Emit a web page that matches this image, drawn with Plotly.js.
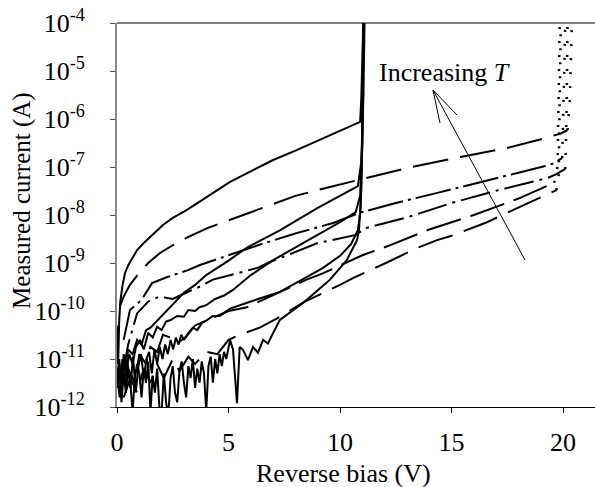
<!DOCTYPE html>
<html>
<head>
<meta charset="utf-8">
<script src="https://cdn.plot.ly/plotly-3.0.1.min.js"></script>
<style>html,body{margin:0;padding:0;background:#fff;}#chart{width:595px;height:487px;}</style>
</head>
<body>
<div id="chart"></div>
<script>
// ---- Data (reverse bias in V, measured current in A) ----
const s1V = [0, 0.05, 0.1, 0.15, 0.25, 0.36, 0.5, 0.67, 0.9, 1.2, 1.5, 1.8, 2.06, 2.5, 3, 3.5, 4, 4.5, 5.07, 6, 7, 8, 9, 10, 10.9, 10.95, 11.0, 11.05];
const s1I = [5.0e-11, 7.9e-12, 6.3e-11, 1.6e-10, 3.5e-10, 6.2e-10, 8.9e-10, 1.2e-9, 1.86e-9, 2.6e-9, 3.5e-9, 4.7e-9, 6.2e-9, 8.7e-9, 1.17e-8, 1.65e-8, 2.3e-8, 3.3e-8, 4.9e-8, 8.1e-8, 1.4e-7, 2.2e-7, 3.5e-7, 5.6e-7, 8.7e-7, 2.5e-6, 1.6e-5, 1.2e-4];

const s2V = [0, 0.1, 0.2, 0.3, 0.4, 0.5, 0.7, 0.9, 1.1, 1.3, 1.5, 1.8, 2.0, 2.5, 3.0, 3.5, 4.0, 5.0, 5.83, 7.3, 9, 10.8, 10.95, 11.05, 11.1];
const s2I = [3.98e-12, 1.0e-11, 2.5e-12, 1.26e-11, 6.3e-12, 1.58e-11, 1.26e-11, 2.5e-11, 2.0e-11, 4.0e-11, 4.5e-11, 6.3e-11, 7.9e-11, 1.41e-10, 2.4e-10, 3.5e-10, 5.6e-10, 1.12e-9, 2.1e-9, 4.8e-9, 1.41e-8, 4.0e-8, 1.26e-7, 3.2e-6, 1.2e-4];

const s3V = [0, 0.1, 0.2, 0.27, 0.4, 0.55, 0.7, 0.85, 1.03, 1.2, 1.4, 1.6, 1.8, 2.0, 2.2, 2.4, 2.7, 3.0, 3.2, 3.5, 3.7, 4.0, 4.4, 4.8, 5.2, 6.0, 7.0, 8.5, 10.0, 10.7, 10.9, 11.0, 11.05];
const s3I = [3.2e-12, 6.3e-12, 1.58e-12, 9.5e-12, 5.0e-12, 1.26e-11, 7.9e-12, 1.78e-11, 2.5e-11, 1.58e-11, 3.5e-11, 2.8e-11, 4.7e-11, 4.0e-11, 6.0e-11, 6.5e-11, 7.9e-11, 7.6e-11, 1.05e-10, 1.0e-10, 1.2e-10, 1.32e-10, 1.78e-10, 2.1e-10, 2.75e-10, 5.6e-10, 1.15e-9, 2.8e-9, 7.1e-9, 1.15e-8, 2.5e-8, 3.2e-7, 1.2e-4];

const s4V = [0, 0.12, 0.24, 0.36, 0.48, 0.6, 0.72, 0.84, 0.96, 1.08, 1.2, 1.32, 1.44, 1.56, 1.68, 1.8, 1.92, 2.04, 2.16, 2.28, 2.4, 2.52, 2.64, 2.76, 2.88, 3.0, 3.2, 3.4, 3.6, 3.8, 4.0, 4.3, 4.6, 5.07, 6, 7.3, 8.3, 9.24, 10, 10.5, 10.8, 10.92, 11.0, 11.03];
const s4I = [5.0e-12, 1.58e-12, 1.0e-11, 3.2e-12, 7.9e-12, 2.5e-12, 1.12e-11, 2.0e-12, 7.1e-12, 1.26e-11, 4.0e-12, 1.0e-11, 1.41e-11, 5.0e-12, 1.58e-11, 7.9e-12, 1.78e-11, 1.0e-11, 2.0e-11, 1.26e-11, 2.5e-11, 1.58e-11, 2.8e-11, 2.0e-11, 3.2e-11, 2.5e-11, 3.5e-11, 4.5e-11, 4.0e-11, 5.6e-11, 6.3e-11, 7.9e-11, 7.9e-11, 1.12e-10, 1.58e-10, 2.5e-10, 4.5e-10, 7.9e-10, 1.41e-9, 2.5e-9, 4.9e-9, 1.26e-8, 3.2e-7, 1.2e-4];

const s5V = [0, 0.1, 0.2, 0.3, 0.4, 0.5, 0.6, 0.7, 0.8, 0.9, 1.0, 1.1, 1.2, 1.3, 1.4, 1.5, 1.6, 1.7, 1.8, 1.9, 2.0, 2.1, 2.2, 2.3, 2.4, 2.5, 2.6, 2.7, 2.8, 2.9, 3.0, 3.1, 3.2, 3.3, 3.4, 3.5, 3.6, 3.7, 3.8, 3.9, 4.0, 4.1, 4.2, 4.3, 4.4, 4.5, 4.6, 4.7, 4.8, 4.9, 5.07, 5.2, 5.38, 5.5, 5.65, 5.87, 6.1, 6.32, 6.55, 6.77, 7.0, 7.3, 8.4, 9.55, 10.3, 10.76, 10.85, 10.95, 11.02, 11.05];
const s5I = [2.5e-12, 7.9e-12, 1.26e-12, 5.0e-12, 2.0e-12, 6.3e-12, 3.2e-12, 7.9e-13, 4.0e-12, 7.9e-12, 5.0e-12, 1.58e-12, 6.3e-12, 3.2e-12, 8.9e-12, 7.9e-13, 4.5e-12, 2.0e-12, 6.3e-12, 1.0e-12, 7.9e-13, 5.0e-12, 1.26e-12, 6.3e-13, 4.0e-12, 7.1e-12, 2.0e-12, 1.26e-12, 5.6e-12, 8.9e-12, 3.2e-12, 1.58e-12, 7.1e-12, 4.0e-12, 1.0e-11, 2.5e-12, 6.3e-12, 3.2e-12, 8.9e-12, 5.0e-12, 7.9e-13, 7.1e-12, 1.12e-11, 3.2e-12, 1.0e-11, 5.0e-12, 1.26e-11, 7.1e-12, 1.41e-11, 1.0e-11, 2.5e-11, 1.58e-11, 1.2e-12, 1.78e-11, 1.55e-11, 9.5e-12, 1.78e-11, 1.35e-11, 2.5e-11, 2.1e-11, 3.5e-11, 6.5e-11, 1.55e-10, 4.5e-10, 1.15e-9, 3.0e-9, 4.9e-9, 3.2e-8, 3.2e-6, 1.2e-4];

// dashed family: main part and steep rise near 20 V
const d1V = [0.13, 0.3, 0.58, 1.0, 1.4, 1.93, 2.47, 3.2, 4.08, 5.07, 5.5, 6.5, 8, 9.5, 11.0, 13, 15.4, 17.5, 19.2, 19.9, 20.2];
const d1I = [1.26e-10, 2.0e-10, 3.5e-10, 6.3e-10, 1.0e-9, 1.62e-9, 2.3e-9, 3.5e-9, 5.4e-9, 7.9e-9, 9.5e-9, 1.41e-8, 2.5e-8, 3.8e-8, 5.6e-8, 9.5e-8, 1.62e-7, 2.5e-7, 4.0e-7, 5.0e-7, 5.9e-7];
const d1RiseV = [20.2, 20.3, 20.35, 20.4];
const d1RiseI = [5.9e-7, 2.5e-6, 1.58e-5, 1.26e-4];

const d2V = [0.3, 0.58, 1.1, 1.57, 2.2, 3.18, 3.72, 4.5, 5.38, 6.5, 8.07, 9.69, 10.9, 12.5, 14.5, 16.5, 18, 19.2, 19.6, 19.96];
const d2I = [2.5e-11, 1.05e-10, 1.7e-10, 3.8e-10, 5.0e-10, 7.1e-10, 9.1e-10, 1.2e-9, 1.62e-9, 2.5e-9, 4.2e-9, 6.8e-9, 1.12e-8, 1.78e-8, 3.0e-8, 5.0e-8, 7.6e-8, 1.05e-7, 1.2e-7, 1.55e-7];
const d2RiseV = [19.96, 20.0, 20.05, 20.1];
const d2RiseI = [1.55e-7, 6.3e-7, 1.0e-5, 1.26e-4];

const d3V = [0.3, 0.5, 0.9, 1.4, 1.9, 2.5, 3.1, 3.7, 4.3, 5.07, 6.3, 6.86, 8.2, 9.0, 10.67, 11.2, 13, 15, 17, 19.3, 19.7, 20.1];
const d3I = [6.3e-12, 2.0e-11, 8.9e-11, 1.58e-10, 2.0e-10, 1.78e-10, 2.4e-10, 3.2e-10, 4.5e-10, 5.6e-10, 7.9e-10, 1.05e-9, 1.86e-9, 2.6e-9, 3.8e-9, 5.4e-9, 8.9e-9, 1.78e-8, 3.2e-8, 5.9e-8, 7.1e-8, 9.1e-8];
const d3RiseV = [20.1, 20.15, 20.2];
const d3RiseI = [9.1e-8, 1.0e-6, 1.26e-4];

const d4V = [0.2, 0.5, 0.8, 1.0, 1.3, 1.5, 1.8, 2.06, 2.4, 2.7, 3.1, 3.5, 4.0, 4.5, 5.0, 5.83, 7.3, 8.5, 9.2, 10, 11, 12.2, 14, 16.0, 18, 19.6];
const d4I = [2.5e-12, 6.3e-12, 3.2e-12, 1.26e-11, 7.9e-12, 1.78e-11, 1.41e-11, 3.2e-11, 2.8e-11, 2.1e-11, 2.9e-11, 5.0e-11, 6.3e-11, 7.9e-11, 1.0e-10, 1.2e-10, 2.5e-10, 4.5e-10, 6.0e-10, 8.9e-10, 1.45e-9, 2.3e-9, 5.0e-9, 1.0e-8, 2.2e-8, 4.7e-8];
const d4RiseV = [19.6, 19.75, 19.8, 19.85];
const d4RiseI = [4.7e-8, 1.0e-7, 3.2e-6, 1.26e-4];

const d5V = [0.3, 0.6, 0.9, 1.2, 1.5, 1.8, 2.1, 2.5, 2.8, 3.2, 3.5, 4.0, 4.5, 5.0, 5.5, 6.4, 7.2, 8.4, 10.0, 10.6, 12.15, 13.4, 14.35, 15, 16.5, 18, 19.7];
const d5I = [1.58e-12, 4.0e-12, 2.0e-12, 6.3e-12, 3.2e-12, 7.9e-12, 4.0e-12, 1.0e-11, 5.6e-12, 1.12e-11, 7.9e-12, 1.41e-11, 1.26e-11, 2.5e-11, 3.2e-11, 4.5e-11, 7.1e-11, 1.55e-10, 3.5e-10, 4.9e-10, 1.05e-9, 2.0e-9, 3.0e-9, 3.7e-9, 6.8e-9, 1.41e-8, 3.3e-8];
const d5RiseV = [19.7, 19.8, 19.85, 19.9];
const d5RiseI = [3.3e-8, 6.3e-8, 3.2e-6, 1.26e-4];

const xTicks = [0, 5, 10, 15, 20];
const yTickVals = [1e-12, 1e-11, 1e-10, 1e-9, 1e-8, 1e-7, 1e-6, 1e-5, 1e-4];
const yTickText = ['10<sup>-12</sup>', '10<sup>-11</sup>', '10<sup>-10</sup>', '10<sup>-9</sup>', '10<sup>-8</sup>', '10<sup>-7</sup>', '10<sup>-6</sup>', '10<sup>-5</sup>', '10<sup>-4</sup>'];

// ---- Styling ----
const FONT = '"Liberation Serif", "Times New Roman", serif';
function tr(x, y, dash, w) {
  return {x: x, y: y, type: 'scatter', mode: 'lines', hoverinfo: 'skip',
          line: {color: '#000', width: w || 2, dash: dash}};
}
const RISE = '2px,12px';
const traces = [
  tr(s1V, s1I, 'solid'), tr(s2V, s2I, 'solid'), tr(s3V, s3I, 'solid'),
  tr(s4V, s4I, 'solid'), tr(s5V, s5I, 'solid'),
  tr(d1V, d1I, '36px,12px'), tr(d1RiseV, d1RiseI, RISE, 2.5),
  tr(d2V, d2I, '36px,5px,3px,5px'), tr(d2RiseV, d2RiseI, RISE, 2.5),
  tr(d3V, d3I, '30px,6px,3px,6px'), tr(d3RiseV, d3RiseI, RISE, 2.5),
  tr(d4V, d4I, '36px,10px'), tr(d4RiseV, d4RiseI, RISE, 2.5),
  tr(d5V, d5I, '36px,12px'), tr(d5RiseV, d5RiseI, RISE, 2.5)
];

const layout = {
  width: 595, height: 487,
  margin: {l: 117, r: 0, t: 23, b: 80, pad: 0},
  paper_bgcolor: '#fff', plot_bgcolor: '#fff',
  showlegend: false,
  font: {family: FONT, color: '#000', size: 26},
  xaxis: {
    range: [0, 21.43], tickvals: xTicks, ticks: 'outside', ticklen: 5, tickwidth: 1, tickcolor: '#000',
    showline: true, linecolor: '#000', linewidth: 1, showgrid: false, zeroline: false,
    tickfont: {family: FONT, size: 26, color: '#000', weight: 'normal'}, ticklabelstandoff: 7
  },
  yaxis: {
    type: 'log', range: [-12, -4], tickvals: yTickVals, ticktext: yTickText,
    ticks: 'outside', ticklen: 5, tickwidth: 1, tickcolor: '#555',
    showline: true, linecolor: '#888', linewidth: 2, showgrid: false, zeroline: false,
    tickfont: {family: FONT, size: 26, color: '#000', weight: 'normal'}, ticklabelstandoff: 20
  },
  shapes: [
    {type: 'line', xref: 'paper', yref: 'paper', x0: 0, x1: 1, y0: 1, y1: 1, line: {color: '#000', width: 1}},
    {type: 'path', xref: 'paper', yref: 'paper',
     path: 'M 0.8536 0.3828 L 0.661 0.8255 M 0.6757 0.7396 L 0.661 0.8255 L 0.7113 0.7604',
     line: {color: '#000', width: 1}}
  ],
  annotations: [
    {xref: 'paper', yref: 'paper', x: 0.473, y: -0.172, xanchor: 'center', yanchor: 'middle',
     text: 'Reverse bias (V)', showarrow: false, font: {family: FONT, size: 26, color: '#000'}},
    {xref: 'paper', yref: 'paper', x: -0.199, y: 0.539, xanchor: 'center', yanchor: 'middle',
     text: 'Measured current (A)', textangle: -90, showarrow: false, font: {family: FONT, size: 25, color: '#000'}},
    {xref: 'paper', yref: 'paper', x: 0.686, y: 0.870, xanchor: 'center', yanchor: 'middle',
     text: 'Increasing <i>T</i>', showarrow: false, font: {family: FONT, size: 26, color: '#000'}}
  ]
};

Plotly.newPlot('chart', traces, layout, {displayModeBar: false, staticPlot: true});
</script>
</body>
</html>
